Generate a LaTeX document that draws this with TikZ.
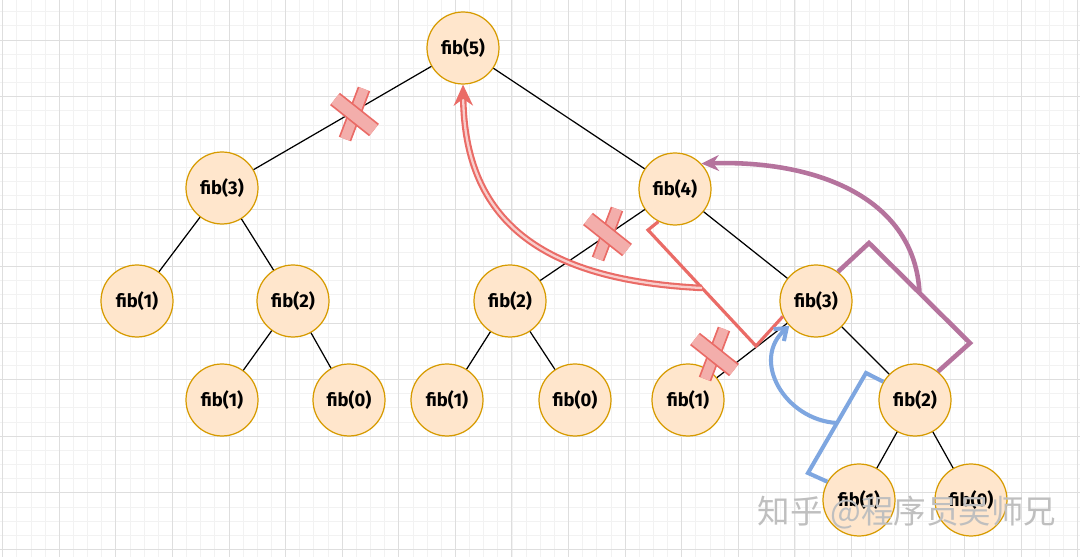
\documentclass[tikz,border=0pt]{standalone}
\usepackage{fontspec}
\setmainfont{Fira Sans}
\newfontfamily\cjkfont{Noto Sans CJK SC}
\usetikzlibrary{arrows.meta,calc}
\definecolor{nodefill}{HTML}{FFE6CC}
\definecolor{nodeline}{HTML}{D79B00}
\definecolor{redline}{HTML}{EA6B66}
\definecolor{redfill}{HTML}{F8CECC}
\definecolor{purpleline}{HTML}{B5739D}
\definecolor{blueline}{HTML}{7EA6E0}
\newcommand{\crossout}[1]{%
  \begin{scope}[shift={#1}]
  \draw[xstroke,double distance=5.5pt] (9,-25)--(-10,25);
  \draw[xstroke] (-20,-15)--(19,16);
  \end{scope}}
\begin{document}
\begin{tikzpicture}[x=0.02cm,y=-0.02cm,
  fibnode/.style={circle,draw=nodeline,fill=nodefill,line width=0.7pt,
    minimum size=1.44cm,inner sep=0pt,font=\bfseries\fontsize{10.5}{13}\selectfont},
  tree/.style={line width=0.7pt},
  xstroke/.style={draw=redline,line width=1pt,double=redline!55!white,double distance=7pt},
  redsk/.style={draw=redline,line width=1.8pt},
  purplesk/.style={draw=purpleline,line width=2.6pt},
  bluesk/.style={draw=blueline,line width=2.3pt}]
\useasboundingbox (0,0) rectangle (1080,557);
\fill[white] (0,0) rectangle (1080,557);
\begin{scope}
\clip (0,0) rectangle (1080,557);
\draw[black!5,line width=0.4pt,shift={(2.6,40)}] (-60,600) grid[step=0.283cm] (1100,-60);
\draw[black!13,line width=0.5pt,shift={(2.6,40)}] (-60,600) grid[step=1.132cm] (1100,-60);
\end{scope}
% tree
\node[fibnode] (f5) at (463,48) {fib(5)};
\node[fibnode] (f3a) at (222,188) {fib(3)};
\node[fibnode] (f4) at (675,189) {fib(4)};
\node[fibnode] (f1a) at (137,301) {fib(1)};
\node[fibnode] (f2a) at (293,301) {fib(2)};
\node[fibnode] (f2b) at (510,301) {fib(2)};
\node[fibnode] (f3b) at (816,301) {fib(3)};
\node[fibnode] (f1b) at (222,400) {fib(1)};
\node[fibnode] (f0b) at (349,400) {fib(0)};
\node[fibnode] (f1c) at (447,400) {fib(1)};
\node[fibnode] (f0c) at (575,400) {fib(0)};
\node[fibnode] (f1d) at (688,400) {fib(1)};
\node[fibnode] (f2c) at (915,400) {fib(2)};
\node[fibnode] (f1e) at (859,500) {fib(1)};
\node[fibnode] (f0e) at (971,500) {fib(0)};
\draw[tree] (f5)--(f3a); \draw[tree] (f5)--(f4);
\draw[tree] (f3a)--(f1a); \draw[tree] (f3a)--(f2a);
\draw[tree] (f2a)--(f1b); \draw[tree] (f2a)--(f0b);
\draw[tree] (f4)--(f2b); \draw[tree] (f4)--(f3b);
\draw[tree] (f2b)--(f1c); \draw[tree] (f2b)--(f0c);
\draw[tree] (f3b)--(f1d); \draw[tree] (f3b)--(f2c);
\draw[tree] (f2c)--(f1e); \draw[tree] (f2c)--(f0e);
% cut calls
\crossout{(355,114)}
\crossout{(608,234)}
\crossout{(715,354)}
% returns
\coordinate (rb2) at (756,346); \coordinate (rb3) at (648,230);
\coordinate (rmid) at ($(rb2)!0.5!(rb3)$);
\draw[redsk] (f3b.205)--(rb2)--(rb3)--(f4.243);
\draw[redsk,line width=1.2pt,double=redfill,double distance=1.3pt,-{Stealth[length=12pt,width=11pt]}]
  (rmid) .. controls (540,280) and (465,220) .. (f5.south);
\coordinate (pb2) at (869,243); \coordinate (pb3) at (970,343);
\coordinate (pmid) at ($(pb2)!0.5!(pb3)$);
\draw[purplesk] (f3b.53)--(pb2)--(pb3)--(f2c.51);
\draw[purplesk,-{Stealth[length=10pt,width=9pt]}]
  (pmid) .. controls (915,200) and (820,160) .. (f4.44);
\coordinate (bb2) at (808,473); \coordinate (bb3) at (866,373);
\coordinate (bmid) at ($(bb2)!0.5!(bb3)$);
\draw[bluesk] (f1e.150)--(bb2)--(bb3)--(f2c.150);
\draw[bluesk,-{Straight Barb[length=6pt,width=9pt]}]
  (bmid) .. controls (785,420) and (750,360) .. (f3b.223);
\node[text=black!25,font=\cjkfont\fontsize{18.5}{20}\selectfont] (mark) at (907,513) {知乎 @程序员吴师兄};
\end{tikzpicture}
\end{document}
